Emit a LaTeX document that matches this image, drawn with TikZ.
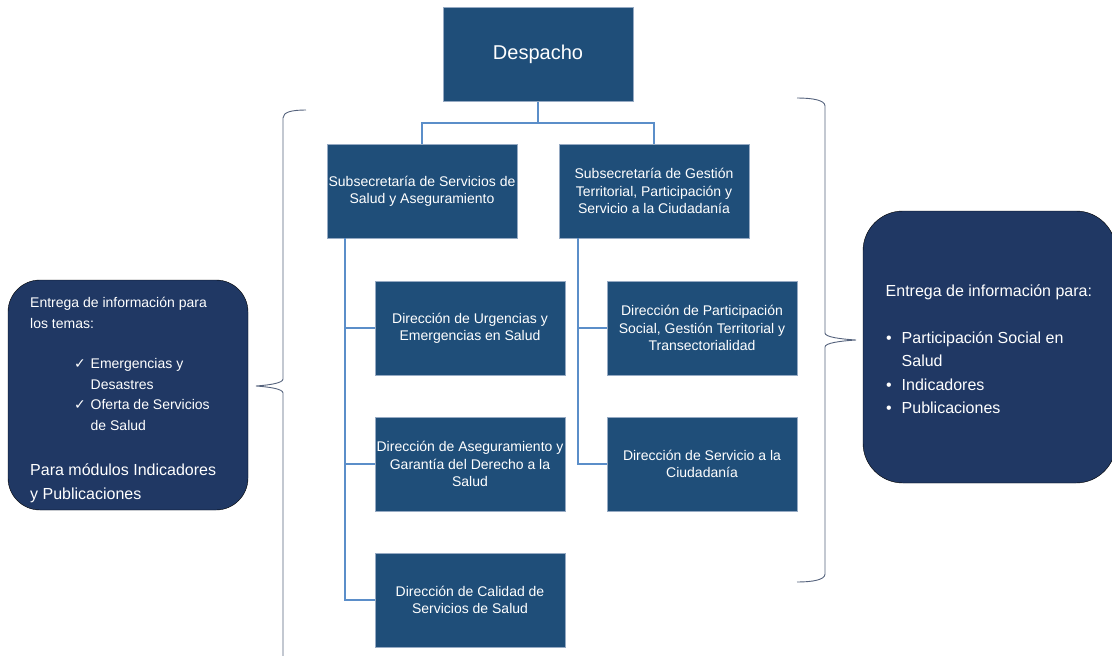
\documentclass[tikz,border=0pt]{standalone}
\usepackage{fontspec}
\setmainfont{Liberation Sans}
\newfontfamily\symfont{DejaVu Sans}
\usetikzlibrary{calc}
\definecolor{unitblue}{RGB}{31,78,121}
\definecolor{unitedge}{RGB}{150,170,195}
\definecolor{infonavy}{RGB}{32,56,100}
\definecolor{linkblue}{RGB}{91,142,201}
\definecolor{bracegray}{RGB}{84,98,124}
\begin{document}
\begin{tikzpicture}[x=1pt,y=-1pt,
  unit/.style={fill=unitblue, draw=unitedge, line width=0.5pt, text=white,
    minimum width=190pt, minimum height=94pt,
    inner sep=0pt, align=center, font=\fontsize{14}{17.2}\selectfont},
  link/.style={draw=linkblue, line width=1.5pt},
  brace/.style={draw=bracegray, line width=0.9pt},
  infobox/.style={fill=infonavy, inner sep=0pt},
  txt/.style={text=white, anchor=base west, inner sep=0pt},
  small/.style={font=\fontsize{14}{17}\selectfont},
  large/.style={font=\fontsize{16}{19}\selectfont}]
\useasboundingbox (0,0) rectangle (1112,656);

% organisation chart
\node[unit, font=\fontsize{20}{24}\selectfont] (desp) at (538,54.5) {Despacho};
\node[unit] (sub1) at (422,191) {Subsecretaría de Servicios de\\Salud y Aseguramiento};
\node[unit] (sub2) at (654,191) {Subsecretaría de Gestión\\Territorial, Participación y\\Servicio a la Ciudadanía};
\node[unit] (dir1) at (470,328) {Dirección de Urgencias y\\Emergencias en Salud};
\node[unit] (dir2) at (470,464) {Dirección de Aseguramiento y\\Garantía del Derecho a la\\Salud};
\node[unit] (dir3) at (470,600) {Dirección de Calidad de\\Servicios de Salud};
\node[unit] (dir4) at (702,328) {Dirección de Participación\\Social, Gestión Territorial y\\Transectorialidad};
\node[unit] (dir5) at (702,464) {Dirección de Servicio a la\\Ciudadanía};

% connectors
\draw[link] (desp.south) -- ++(0,21) coordinate (split) -| (sub1.north);
\draw[link] (split) -| (sub2.north);
\coordinate (trunkL) at ($(sub1.south west)+(18,0)$);
\coordinate (trunkR) at ($(sub2.south west)+(19,0)$);
\draw[link] (trunkL) |- (dir1.west);
\draw[link] (trunkL) |- (dir2.west);
\draw[link] (trunkL) |- (dir3.west);
\draw[link] (trunkR) |- (dir4.west);
\draw[link] (trunkR) |- (dir5.west);

% information boxes (text placed by baseline)
\draw[infobox, rounded corners=32pt] (8,280) rectangle (248,510);
\node[txt, small] (l1) at (30,307) {Entrega de información para};
\node[txt, small] (l2) at (30,328) {los temas:};
\node[txt] (c1) at (74,368) {\symfont\fontsize{14}{17}\selectfont ✓};
\node[txt, small] (e1) at (90.5,368) {Emergencias y};
\node[txt, small] (e2) at (90.5,389) {Desastres};
\node[txt] (c2) at (74,409) {\symfont\fontsize{14}{17}\selectfont ✓};
\node[txt, small] (e3) at (90.5,409) {Oferta de Servicios};
\node[txt, small] (e4) at (90.5,430) {de Salud};
\node[txt, large] (p1) at (30,475) {Para módulos Indicadores};
\node[txt, large] (p2) at (30,499) {y Publicaciones};

\draw[infobox, rounded corners=40pt] (863,211) rectangle (1116,483);
\node[txt, large] (r1) at (885.5,296) {Entrega de información para:};
\node[txt, large] (b1) at (886,343) {•};
\node[txt, large] (r2) at (901.5,343) {Participación Social en};
\node[txt, large] (r3) at (901.5,366) {Salud};
\node[txt, large] (b2) at (886,390) {•};
\node[txt, large] (r4) at (901.5,390) {Indicadores};
\node[txt, large] (b3) at (886,413) {•};
\node[txt, large] (r5) at (901.5,413) {Publicaciones};

% braces
\draw[brace] (306,110) .. controls (292,110) and (283,112) .. (283,118) -- (283,379)
  .. controls (283,383) and (270,385) .. (256,386)
  .. controls (270,387) and (283,389) .. (283,393) -- (283,660);
\draw[brace] (797,98) .. controls (812,98) and (825,100) .. (825,106) -- (825,333)
  .. controls (825,337) and (840,339) .. (856,340)
  .. controls (840,341) and (825,343) .. (825,347) -- (825,574)
  .. controls (825,580) and (812,582) .. (797,582);
\end{tikzpicture}
\end{document}
